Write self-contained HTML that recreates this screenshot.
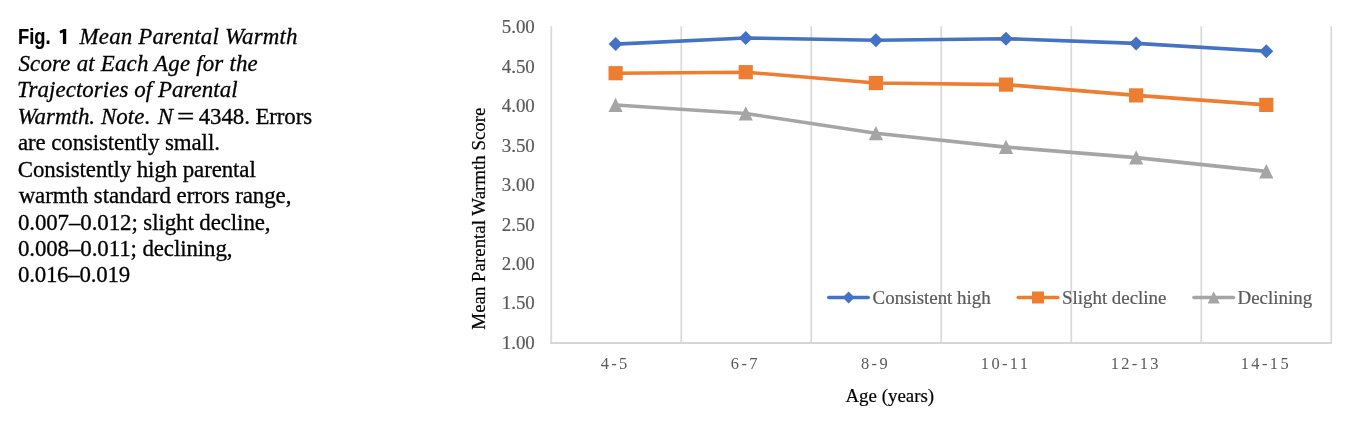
<!DOCTYPE html>
<html>
<head>
<meta charset="utf-8">
<style>
html,body{margin:0;padding:0;background:#fff;}
body{width:1354px;height:432px;position:relative;overflow:hidden;font-family:"Liberation Serif",serif;}
.ln{position:absolute;white-space:pre;font-family:"Liberation Serif",serif;font-size:22.9px;line-height:40px;height:40px;color:#000;transform-origin:0 50%;-webkit-text-stroke:0.3px #000;}
.ln.fg{font-family:"Liberation Sans",sans-serif;font-weight:bold;font-size:22.4px;-webkit-text-stroke:0.15px #000;}
#w{position:absolute;left:0;top:0;width:1354px;height:432px;will-change:transform;}
svg{position:absolute;left:0;top:0;}
.yl,.lg{stroke:#595959;stroke-width:0.2px;}
.at{stroke:#000;stroke-width:0.2px;}
.yl{font-family:"Liberation Serif",serif;font-size:18.9px;fill:#595959;text-anchor:end;}
.xl{font-family:"Liberation Serif",serif;font-size:16.4px;fill:#595959;text-anchor:middle;letter-spacing:2.4px;}
.lg{font-family:"Liberation Serif",serif;font-size:18.9px;fill:#595959;}
.at{font-family:"Liberation Serif",serif;font-size:18.9px;fill:#000;text-anchor:middle;}
</style>
</head>
<body>
<div id="w">
<span class="ln fg" style="left:18.20px;top:17.14px;letter-spacing:0.000px;transform:scaleX(0.8190);">Fig.</span>
<span class="ln " style="left:79.60px;top:17.37px;letter-spacing:0.178px;"><i>Mean Parental Warmth</i></span>
<span class="ln " style="left:18.47px;top:43.77px;letter-spacing:0.196px;"><i>Score at Each Age for the</i></span>
<span class="ln " style="left:17.04px;top:70.27px;letter-spacing:0.060px;"><i>Trajectories of Parental</i></span>
<span class="ln " style="left:17.43px;top:96.67px;letter-spacing:0.049px;"><i>Warmth. Note</i>.</span>
<span class="ln " style="left:157.75px;top:96.67px;letter-spacing:0.000px;"><i>N</i></span>
<span class="ln eq" style="left:176.54px;top:96.67px;letter-spacing:0.000px;transform:scaleX(1.3459);">=</span>
<span class="ln " style="left:198.76px;top:96.67px;letter-spacing:-0.094px;">4348. Errors</span>
<span class="ln " style="left:17.95px;top:123.17px;letter-spacing:-0.097px;">are consistently small.</span>
<span class="ln " style="left:17.80px;top:149.57px;letter-spacing:-0.094px;">Consistently high parental</span>
<span class="ln " style="left:18.66px;top:175.97px;letter-spacing:-0.064px;">warmth standard errors range,</span>
<span class="ln " style="left:17.91px;top:202.57px;letter-spacing:-0.086px;">0.007–0.012; slight decline,</span>
<span class="ln " style="left:17.91px;top:229.07px;letter-spacing:-0.090px;">0.008–0.011; declining,</span>
<span class="ln " style="left:17.91px;top:255.37px;letter-spacing:-0.211px;">0.016–0.019</span>

<svg width="1354" height="432" viewBox="0 0 1354 432">
<path d="M66.2,29 V43.9 H62.9 V32.5 L60.3,33.5 L59.5,31 L63.6,29 Z" fill="#000"/>
<g stroke="#d9d9d9" stroke-width="1.75" fill="none"><line x1="551.3" y1="26.2" x2="551.3" y2="343"/><line x1="681.3" y1="26.2" x2="681.3" y2="343"/><line x1="811.3" y1="26.2" x2="811.3" y2="343"/><line x1="941.3" y1="26.2" x2="941.3" y2="343"/><line x1="1071.3" y1="26.2" x2="1071.3" y2="343"/><line x1="1201.3" y1="26.2" x2="1201.3" y2="343"/><line x1="1331.3" y1="26.2" x2="1331.3" y2="343"/></g>
<line x1="550" y1="343" x2="1332" y2="343" stroke="#d6d6d6" stroke-width="2"/>
<g class="yl"><text x="534.8" y="33.15">5.00</text><text x="534.8" y="72.62">4.50</text><text x="534.8" y="112.09">4.00</text><text x="534.8" y="151.56">3.50</text><text x="534.8" y="191.03">3.00</text><text x="534.8" y="230.50">2.50</text><text x="534.8" y="269.97">2.00</text><text x="534.8" y="309.44">1.50</text><text x="534.8" y="348.91">1.00</text></g>
<g class="xl"><text x="615.2" y="368.8">4-5</text><text x="745.34" y="368.8">6-7</text><text x="875.48" y="368.8">8-9</text><text x="1005.62" y="368.8">10-11</text><text x="1135.76" y="368.8">12-13</text><text x="1265.9" y="368.8">14-15</text></g>
<text class="at" x="889.8" y="402">Age (years)</text>
<text class="at" transform="translate(485.3,218.6) rotate(-90)">Mean Parental Warmth Score</text>
<polyline fill="none" stroke="#a5a5a5" stroke-width="3.6" stroke-linejoin="round" stroke-linecap="round" points="615.60,105 745.74,113.5 875.88,133.2 1006.02,147.1 1136.16,157.6 1266.30,171.4"/>
<g fill="#a5a5a5"><path d="M615.6,97.7 l7.1,14.3 h-14.2z"/><path d="M745.74,106.2 l7.1,14.3 h-14.2z"/><path d="M875.88,125.9 l7.1,14.3 h-14.2z"/><path d="M1006.02,139.8 l7.1,14.3 h-14.2z"/><path d="M1136.16,150.3 l7.1,14.3 h-14.2z"/><path d="M1266.3,164.1 l7.1,14.3 h-14.2z"/></g>
<polyline fill="none" stroke="#ed7d31" stroke-width="3.6" stroke-linejoin="round" stroke-linecap="round" points="615.60,73.2 745.74,72.2 875.88,83 1006.02,84.6 1136.16,95.4 1266.30,104.9"/>
<g fill="#ed7d31"><rect x="608.5" y="66.1" width="14.2" height="14.2"/><rect x="738.64" y="65.1" width="14.2" height="14.2"/><rect x="868.78" y="75.9" width="14.2" height="14.2"/><rect x="998.92" y="77.5" width="14.2" height="14.2"/><rect x="1129.06" y="88.3" width="14.2" height="14.2"/><rect x="1259.2" y="97.8" width="14.2" height="14.2"/></g>
<polyline fill="none" stroke="#4472c4" stroke-width="3.6" stroke-linejoin="round" stroke-linecap="round" points="615.60,44.1 745.74,38 875.88,40.2 1006.02,38.7 1136.16,43.4 1266.30,51.3"/>
<g fill="#4472c4"><path d="M615.6,37.1 l7,7 l-7,7 l-7,-7z"/><path d="M745.74,31 l7,7 l-7,7 l-7,-7z"/><path d="M875.88,33.2 l7,7 l-7,7 l-7,-7z"/><path d="M1006.02,31.7 l7,7 l-7,7 l-7,-7z"/><path d="M1136.16,36.4 l7,7 l-7,7 l-7,-7z"/><path d="M1266.3,44.3 l7,7 l-7,7 l-7,-7z"/></g>
<g stroke-linecap="round" stroke-width="3.6">
<line x1="828.8" y1="297.5" x2="868.2" y2="297.5" stroke="#4472c4"/>
<g fill="#4472c4"><path d="M848.6,291.5 l6,6 l-6,6 l-6,-6z"/></g>
<text class="lg" x="872.6" y="303.6">Consistent high</text>
<line x1="1018.2" y1="297.5" x2="1057.8" y2="297.5" stroke="#ed7d31"/>
<g fill="#ed7d31"><rect x="1032" y="291.5" width="12" height="12"/></g>
<text class="lg" x="1062" y="303.6">Slight decline</text>
<line x1="1194" y1="297.5" x2="1233.4" y2="297.5" stroke="#a5a5a5"/>
<g fill="#a5a5a5"><path d="M1213.7,291.3 l6,12.1 h-12z"/></g>
<text class="lg" x="1237.6" y="303.6">Declining</text>
</g>
</svg>
</div>
</body>
</html>
